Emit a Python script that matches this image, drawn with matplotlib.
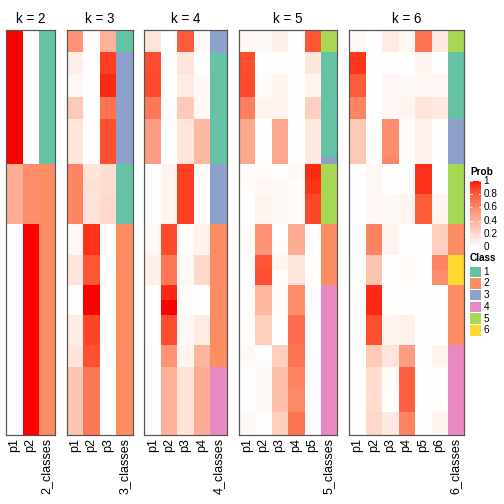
import numpy as np
import matplotlib
matplotlib.use("Agg")
import matplotlib.pyplot as plt
from matplotlib.patches import Rectangle

plt.rcParams['font.family'] = ['Liberation Sans', 'DejaVu Sans']

# rows per block of samples (54 samples in total)
seg_sizes = [3, 3, 3, 3, 5, 1, 2, 2, 4, 4, 2, 2, 2, 2, 4, 3, 3, 3, 3]

prob_k2 = [[1.00, 0.00], [1.00, 0.00], [1.00, 0.00], [1.00, 0.00], [1.00, 0.00],
           [1.00, 0.00], [0.42, 0.58], [0.42, 0.58], [0.42, 0.58], [0.00, 1.00],
           [0.00, 1.00], [0.00, 1.00], [0.00, 1.00], [0.00, 1.00], [0.00, 1.00],
           [0.00, 1.00], [0.00, 1.00], [0.00, 1.00], [0.00, 1.00]]
class_k2 = [1, 1, 1, 1, 1, 1, 2, 2, 2, 2, 2, 2, 2, 2, 2, 2, 2, 2, 2]

prob_k3 = [[0.55, 0.02, 0.40], [0.08, 0.00, 0.90], [0.04, 0.00, 0.95], [0.28, 0.00, 0.70],
           [0.13, 0.00, 0.84], [0.13, 0.00, 0.84], [0.62, 0.14, 0.17], [0.62, 0.16, 0.17],
           [0.62, 0.15, 0.19], [0.04, 0.93, 0.00], [0.14, 0.82, 0.00], [0.14, 0.82, 0.00],
           [0.00, 1.00, 0.00], [0.00, 1.00, 0.00], [0.09, 0.88, 0.00], [0.14, 0.84, 0.00],
           [0.30, 0.68, 0.00], [0.30, 0.68, 0.00], [0.30, 0.68, 0.00]]
class_k3 = [1, 3, 3, 3, 3, 3, 1, 1, 1, 2, 2, 2, 2, 2, 2, 2, 2, 2, 2]

prob_k4 = [[0.14, 0.00, 0.80, 0.04], [0.85, 0.00, 0.14, 0.00], [0.86, 0.00, 0.10, 0.03],
           [0.68, 0.00, 0.28, 0.03], [0.50, 0.00, 0.13, 0.37], [0.50, 0.00, 0.13, 0.37],
           [0.01, 0.06, 0.90, 0.02], [0.01, 0.06, 0.90, 0.02], [0.01, 0.06, 0.90, 0.02],
           [0.04, 0.86, 0.01, 0.07], [0.08, 0.68, 0.04, 0.20], [0.08, 0.68, 0.04, 0.20],
           [0.00, 0.95, 0.02, 0.01], [0.00, 1.00, 0.01, 0.00], [0.00, 0.85, 0.04, 0.10],
           [0.01, 0.55, 0.05, 0.38], [0.01, 0.40, 0.15, 0.42], [0.01, 0.40, 0.15, 0.42],
           [0.01, 0.40, 0.15, 0.42]]
class_k4 = [3, 1, 1, 1, 1, 1, 3, 3, 3, 2, 2, 2, 2, 2, 2, 2, 4, 4, 4]

prob_k5 = [[0.04, 0.03, 0.08, 0.01, 0.82], [0.85, 0.00, 0.00, 0.00, 0.13],
           [0.86, 0.02, 0.05, 0.00, 0.05], [0.65, 0.05, 0.06, 0.01, 0.25],
           [0.45, 0.00, 0.45, 0.00, 0.12], [0.45, 0.00, 0.45, 0.00, 0.12],
           [0.02, 0.02, 0.00, 0.03, 0.95], [0.01, 0.04, 0.03, 0.02, 0.93],
           [0.00, 0.06, 0.03, 0.02, 0.87], [0.02, 0.55, 0.01, 0.42, 0.01],
           [0.00, 0.82, 0.05, 0.13, 0.01], [0.00, 0.84, 0.01, 0.13, 0.01],
           [0.01, 0.37, 0.02, 0.58, 0.01], [0.01, 0.37, 0.02, 0.58, 0.01],
           [0.01, 0.25, 0.00, 0.72, 0.01], [0.03, 0.01, 0.25, 0.70, 0.01],
           [0.00, 0.03, 0.33, 0.62, 0.01], [0.00, 0.03, 0.33, 0.60, 0.01],
           [0.03, 0.01, 0.25, 0.70, 0.01]]
class_k5 = [5, 1, 1, 1, 1, 3, 5, 5, 5, 2, 2, 2, 4, 4, 4, 4, 4, 4, 4]

prob_k6 = [[0.03, 0.00, 0.10, 0.04, 0.70, 0.12], [0.92, 0.00, 0.00, 0.00, 0.05, 0.00],
           [0.80, 0.00, 0.04, 0.03, 0.04, 0.04], [0.62, 0.00, 0.04, 0.05, 0.14, 0.12],
           [0.28, 0.00, 0.58, 0.02, 0.07, 0.01], [0.28, 0.00, 0.62, 0.00, 0.07, 0.00],
           [0.00, 0.04, 0.00, 0.01, 0.93, 0.00], [0.00, 0.04, 0.00, 0.01, 0.93, 0.00],
           [0.00, 0.04, 0.03, 0.06, 0.80, 0.05], [0.00, 0.62, 0.06, 0.01, 0.00, 0.25],
           [0.00, 0.30, 0.00, 0.02, 0.00, 0.62], [0.01, 0.30, 0.00, 0.02, 0.01, 0.58],
           [0.00, 0.95, 0.01, 0.00, 0.00, 0.01], [0.00, 0.95, 0.01, 0.00, 0.00, 0.01],
           [0.01, 0.84, 0.05, 0.07, 0.00, 0.00], [0.00, 0.28, 0.14, 0.50, 0.00, 0.05],
           [0.00, 0.18, 0.02, 0.78, 0.01, 0.01], [0.00, 0.18, 0.00, 0.78, 0.01, 0.01],
           [0.00, 0.20, 0.12, 0.62, 0.01, 0.05]]
class_k6 = [5, 1, 1, 1, 3, 3, 5, 5, 5, 2, 6, 6, 2, 2, 2, 4, 4, 4, 4]

ks = [2, 3, 4, 5, 6]
probs = [prob_k2, prob_k3, prob_k4, prob_k5, prob_k6]
classes = [class_k2, class_k3, class_k4, class_k5, class_k6]

class_labels = ['1', '2', '3', '4', '5', '6']
class_colors = ['#66C2A5', '#FC8D62', '#8DA0CB', '#E78AC3', '#A6D854', '#FFD92F']
legend_ticks = [1, 0.8, 0.6, 0.4, 0.2, 0]


def lab_to_rgb(L, a, b):
    fy = (L + 16) / 116
    fx = fy + a / 500
    fz = fy - b / 200

    def finv(t):
        return np.where(t ** 3 > 0.008856, t ** 3, (t - 16 / 116) / 7.787)
    X = 0.95047 * finv(fx)
    Y = finv(fy)
    Z = 1.08883 * finv(fz)
    r = 3.2406 * X - 1.5372 * Y - 0.4986 * Z
    g = -0.9689 * X + 1.8758 * Y + 0.0415 * Z
    bb = 0.0557 * X - 0.2040 * Y + 1.0570 * Z
    rgb = np.stack([r, g, bb], axis=-1)
    rgb = np.clip(rgb, 0, 1)
    rgb = np.where(rgb > 0.0031308, 1.055 * rgb ** (1 / 2.4) - 0.055, 12.92 * rgb)
    return np.clip(rgb, 0, 1)


def prob_color(p):
    # white -> red, interpolated in LAB space
    p = np.asarray(p, dtype=float)
    return lab_to_rgb(100 - 46.76 * p, 80.09 * p, 67.20 * p)


W = 504.0
fig = plt.figure(figsize=(7, 7), dpi=72)

top, bottom = 29.7, 435.3
col_w = 16.45
gap = 11.8
left = 5.7

for k, pr, cl in zip(ks, probs, classes):
    pr = np.repeat(np.array(pr), seg_sizes, axis=0)
    cl = np.repeat(np.array(cl), seg_sizes)
    img = np.zeros((pr.shape[0], k + 1, 3))
    img[:, :k, :] = prob_color(pr)
    img[:, k, :] = [matplotlib.colors.to_rgb(class_colors[c - 1]) for c in cl]

    w = col_w * (k + 1)
    ax = fig.add_axes([left / W, (W - bottom) / W, w / W, (bottom - top) / W])
    ax.imshow(img, aspect='auto', interpolation='nearest')
    ax.set_xticks(range(k + 1))
    ax.set_xticklabels(['p%d' % (i + 1) for i in range(k)] + ['%d_classes' % k],
                       rotation=90, fontsize=12.5)
    ax.tick_params(axis='x', length=0, pad=3)
    ax.set_yticks([])
    for s in ax.spines.values():
        s.set_color('#555555')
        s.set_linewidth(1.2)
    ax.set_title('k = %d' % k, fontsize=13.5, pad=7)
    left += w + gap

# legends
leg = fig.add_axes([0, 0, 1, 1])
leg.axis('off')
grad = np.linspace(1, 0, 256)[:, None]
leg.imshow(prob_color(grad), extent=[470, 481, 247, 181], aspect='auto', interpolation='bilinear')
leg.set_xlim(0, W)
leg.set_ylim(W, 0)
leg.text(470, 172, 'Prob', fontsize=10, fontweight='bold', va='center', ha='left')
for t in legend_ticks:
    y = 247 - t * 66
    leg.plot([470, 472], [y, y], color='white', lw=0.8)
    leg.plot([479, 481], [y, y], color='white', lw=0.8)
    leg.text(483.5, y, '%g' % t, fontsize=10, va='center', ha='left')

leg.text(470, 258, 'Class', fontsize=10, fontweight='bold', va='center', ha='left')
for i, (lab, c) in enumerate(zip(class_labels, class_colors)):
    y0 = 266.5 + i * 11.7
    leg.add_patch(Rectangle((470, y0), 10.7, 10.5, facecolor=c, edgecolor='none'))
    leg.text(483.5, y0 + 5.3, lab, fontsize=10, va='center', ha='left')

fig.savefig('out.png', dpi=72)
